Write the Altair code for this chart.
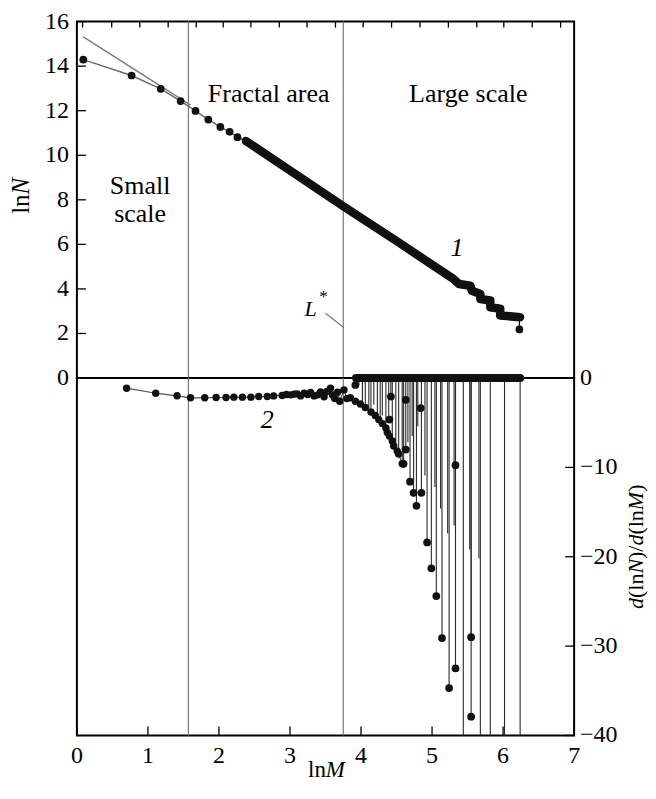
import altair as alt
import pandas as pd

# ---------------- data ----------------
# curve 1 (upper panel): individual markers at small lnM
s1_x = [0.09, 0.77, 1.18, 1.46, 1.67, 1.85, 2.02, 2.15, 2.26, 2.38]
s1_y = [14.29, 13.58, 12.98, 12.43, 11.99, 11.60, 11.27, 11.05, 10.81, 10.64]
# curve 1: dense part (overlapping markers form a band), incl. staircase at the end
band_x = [2.38, 3.10, 3.75, 4.50, 5.30, 5.38, 5.54, 5.56, 5.68, 5.68, 5.82, 5.82, 5.96, 5.96, 6.24]
band_y = [10.64, 9.10, 7.71, 6.15, 4.45, 4.22, 4.14, 3.92, 3.77, 3.55, 3.48, 3.18, 3.11, 2.81, 2.73]
last_x = [6.23]
last_y = [2.18]
# gray fitted straight line (fractal slope)
fit_x = [0.09, 1.60]
fit_y = [15.31, 12.25]

# curve 2 (lower panel): derivative d(lnN)/d(lnM)
s2_x = [0.70, 1.11, 1.41, 1.60, 1.80, 1.96, 2.10, 2.21, 2.33, 2.45, 2.56, 2.68, 2.77,
        2.89, 2.95, 3.01, 3.06, 3.10, 3.15, 3.20, 3.25, 3.29, 3.34, 3.39, 3.43, 3.48,
        3.52, 3.57, 3.60, 3.63, 3.67, 3.70, 3.76, 3.80, 3.85, 3.92, 3.99, 4.06, 4.14,
        4.20, 4.25, 4.30, 4.35, 4.37, 4.40, 4.44, 4.46, 4.51, 4.53, 4.58]
s2_y = [-1.14, -1.70, -1.99, -2.21, -2.21, -2.18, -2.18, -2.14, -2.14, -2.14, -2.07, -2.07, -2.00,
        -1.95, -1.85, -1.88, -1.80, -1.77, -2.00, -1.70, -1.85, -1.62, -2.00, -1.88, -1.55, -2.10,
        -1.50, -1.14, -1.90, -2.30, -1.60, -2.60, -1.33, -2.30, -2.20, -2.60, -2.90, -3.30, -3.80,
        -4.20, -4.65, -5.10, -5.60, -6.10, -6.50, -7.05, -7.60, -8.20, -8.50, -9.60]
# needles from 0 down to each value (values below -40 run off the frame)
needle_x = [3.97, 4.02, 4.06, 4.11, 4.14, 4.18, 4.23, 4.27, 4.30, 4.35, 4.39, 4.42, 4.44, 4.49,
            4.53, 4.58, 4.60, 4.63, 4.66, 4.69, 4.72, 4.74, 4.78, 4.80, 4.85, 4.90, 4.93, 4.99,
            5.04, 5.06, 5.12, 5.14, 5.22, 5.24, 5.31, 5.33, 5.33, 5.44, 5.53, 5.55, 5.55, 5.66,
            5.68, 5.82, 6.02, 6.24]
needle_y = [-0.8, -2.8, -3.0, -3.4, -3.8, -3.0, -4.4, -4.6, -4.2, -5.6, -4.65, -2.07, -7.05, -7.6,
            -8.2, -9.6, -9.6, -8.0, -7.2, -11.6, -6.5, -12.85, -14.3, -5.4, -12.85, -10.9, -18.4, -21.3,
            -12.2, -24.4, -14.6, -29.1, -17.4, -34.7, -16.5, -9.75, -32.5, -45.0, -19.2, -29.0, -37.9, -20.2,
            -45.0, -45.0, -45.0, -45.0]
# isolated markers at the needle tips
dot_x = [3.92, 4.42, 4.63, 4.84, 4.40, 4.63, 4.60, 4.69, 4.74, 4.85, 4.78, 5.33, 4.93, 4.99,
         5.06, 5.14, 5.24, 5.33, 5.55, 5.55]
dot_y = [-0.78, -2.07, -2.44, -3.36, -4.65, -8.0, -9.6, -11.6, -12.85, -12.85, -14.3, -9.75, -18.4, -21.3,
         -24.4, -29.1, -34.7, -32.5, -29.0, -37.9]
# markers sitting on zero (derivative = 0) from lnM ~3.93 to 6.24
zero_from = [3.93]
zero_to = [6.24]

# region boundaries
divider_x = [1.57, 3.75]

# axes: tick values and labels
left_vals = [0, 2, 4, 6, 8, 10, 12, 14, 16]
left_labels = ["0", "2", "4", "6", "8", "10", "12", "14", "16"]
right_vals = [0, -10, -20, -30, -40]
right_labels = ["0", "\u221210", "\u221220", "\u221230", "\u221240"]
bottom_vals = [0, 1, 2, 3, 4, 5, 6, 7]
bottom_labels = ["0", "1", "2", "3", "4", "5", "6", "7"]
top_ticks = [0.08, 0.49, 0.886, 1.285, 1.68, 2.06, 2.45, 2.85, 3.24, 3.64, 4.03, 4.43,
             4.83, 5.23, 5.63, 6.01, 6.41, 6.81]

# axis titles, split into roman / italic pieces
left_title = ["ln", "N"]
bottom_title = ["ln", "M"]
right_title = ["d", "(ln", "N", ")/", "d", "(ln", "M", ")"]

# text annotations
reg_text = ["Small", "scale", "Fractal area", "Large scale"]
reg_x = [0.89, 0.89, 2.70, 5.51]
reg_y = [8.6, 7.35, 12.75, 12.75]
lstar_line_x = [3.50, 3.76]
lstar_line_y = [2.91, 2.26]

# ---------------- chart ----------------
FONT = "Liberation Serif"
W, HT, HB = 498, 357, 358
FS_TICK = 24
FS_TXT = 26
xsc = alt.Scale(domain=[0, 7], nice=False, zero=False)
ytsc = alt.Scale(domain=[0, 16], nice=False, zero=False)
ybsc = alt.Scale(domain=[-40, 0], nice=False, zero=False)

# approximate advance widths (em) of Liberation Serif (roman / italic) to lay out mixed titles
EM = {"l": 0.278, "n": 0.5, "N": 0.667, "M": 0.833, "d": 0.5, "(": 0.333, ")": 0.333, "/": 0.278}


def italic(piece):
    return piece in ("N", "M", "d")


def piece_offsets(pieces, fs):
    offs, acc = [], 0.0
    for p in pieces:
        offs.append(acc)
        acc += sum(EM[c] for c in p) * fs
    return offs, acc


def X(field="x"):
    return alt.X(f"{field}:Q", scale=xsc, axis=None)


def YT(field="y"):
    return alt.Y(f"{field}:Q", scale=ytsc, axis=None)


def YB(field="y"):
    return alt.Y(f"{field}:Q", scale=ybsc, axis=None)


def txt(**kw):
    base = dict(font=FONT, fontSize=FS_TXT, color="black")
    base.update(kw)
    return base


def title_layers(pieces, fs, vertical, cx, cy):
    offs, total = piece_offsets(pieces, fs)
    layers = []
    for p, o in zip(pieces, offs):
        style = "italic" if italic(p) else "normal"
        if vertical:
            xv, yv = cx, cy + total / 2 - o
            mk = dict(angle=270, align="left", baseline="middle")
        else:
            xv, yv = cx - total / 2 + o, cy
            mk = dict(align="left", baseline="middle")
        layers.append(alt.Chart(pd.DataFrame({"t": [p]})).mark_text(
            **txt(fontSize=fs, fontStyle=style, **mk)).encode(
            text="t:N", x=alt.value(xv), y=alt.value(yv)))
    return layers


div_df = pd.DataFrame({"x": divider_x})

# ---- upper panel ----
left_df = pd.DataFrame({"v": left_vals, "t": left_labels})
t_ticks_left = alt.Chart(left_df).mark_rule(color="black", strokeWidth=1.3).encode(
    y=YT("v"), x=alt.value(0), x2=alt.value(9))
t_labels_left = alt.Chart(left_df).mark_text(**txt(fontSize=FS_TICK, align="right", baseline="middle")).encode(
    y=YT("v"), x=alt.value(-8), text="t:N")
t_titles = title_layers(left_title, 25, True, -56, HT / 2 - 4)
t_ticks_top = alt.Chart(pd.DataFrame({"x": top_ticks})).mark_rule(color="black", strokeWidth=1.3).encode(
    x=X(), y=alt.value(0), y2=alt.value(6))
t_div = alt.Chart(div_df).mark_rule(color="#7a7a7a", strokeWidth=1.2).encode(x=X())
t_fit = alt.Chart(pd.DataFrame({"x": fit_x, "y": fit_y})).mark_line(color="#7a7a7a", strokeWidth=1.4).encode(
    x=X(), y=YT())
t_sparse_line = alt.Chart(pd.DataFrame({"x": s1_x, "y": s1_y})).mark_line(color="#6a6a6a", strokeWidth=1.4).encode(
    x=X(), y=YT())
band_df = pd.DataFrame({"x": band_x, "y": band_y, "i": list(range(len(band_x)))})
t_band = alt.Chart(band_df).mark_line(color="#111", strokeWidth=8.5, strokeCap="round",
                                      strokeJoin="round").encode(x=X(), y=YT(), order="i:Q")
t_pts = alt.Chart(pd.DataFrame({"x": s1_x, "y": s1_y})).mark_circle(color="#111", size=60, opacity=1).encode(
    x=X(), y=YT())
last_df = pd.DataFrame({"x": last_x, "y": last_y, "y0": [band_y[-1]]})
t_last_rule = alt.Chart(last_df).mark_rule(color="#111", strokeWidth=1.3).encode(x=X(), y=YT(), y2="y0:Q")
t_last_pt = alt.Chart(last_df).mark_circle(color="#111", size=60, opacity=1).encode(x=X(), y=YT())
t_text = alt.Chart(pd.DataFrame({"x": reg_x, "y": reg_y, "t": reg_text})).mark_text(**txt()).encode(
    x=X(), y=YT(), text="t:N")
t_one = alt.Chart(pd.DataFrame({"x": [5.35], "y": [5.85], "t": ["1"]})).mark_text(
    **txt(fontStyle="italic")).encode(x=X(), y=YT(), text="t:N")
t_L = alt.Chart(pd.DataFrame({"x": [3.29], "y": [3.12], "t": ["L"]})).mark_text(
    **txt(fontSize=22, fontStyle="italic")).encode(x=X(), y=YT(), text="t:N")
t_star = alt.Chart(pd.DataFrame({"x": [3.47], "y": [3.62], "t": ["*"]})).mark_text(
    **txt(fontSize=17)).encode(x=X(), y=YT(), text="t:N")
t_lline = alt.Chart(pd.DataFrame({"x": lstar_line_x, "y": lstar_line_y})).mark_line(
    color="#7a7a7a", strokeWidth=1.2).encode(x=X(), y=YT())

top = alt.layer(t_div, t_ticks_left, t_labels_left, *t_titles, t_ticks_top, t_fit,
                t_sparse_line, t_band, t_pts, t_last_rule, t_last_pt, t_text, t_one, t_L, t_star,
                t_lline).properties(width=W, height=HT)

# ---- lower panel ----
bot_df = pd.DataFrame({"x": bottom_vals, "t": bottom_labels})
b_ticks_bottom = alt.Chart(bot_df).mark_rule(color="black", strokeWidth=1.3).encode(
    x=X(), y=alt.value(HB), y2=alt.value(HB - 9))
b_labels_bottom = alt.Chart(bot_df).mark_text(**txt(fontSize=FS_TICK, align="center", baseline="middle")).encode(
    x=X(), y=alt.value(HB + 21), text="t:N")
b_titles = title_layers(bottom_title, 23, False, W / 2 + 1, HB + 35)
right_df = pd.DataFrame({"v": right_vals, "t": right_labels})
b_ticks_right = alt.Chart(right_df).mark_rule(color="black", strokeWidth=1.3).encode(
    y=YB("v"), x=alt.value(W), x2=alt.value(W - 9))
b_labels_right = alt.Chart(right_df).mark_text(**txt(fontSize=FS_TICK, align="left", baseline="middle")).encode(
    y=YB("v"), x=alt.value(W + 6), text="t:N")
r_titles = title_layers(right_title, 22, True, W + 62, HB / 2 - 10)
b_div = alt.Chart(div_df).mark_rule(color="#7a7a7a", strokeWidth=1.2).encode(x=X())
needle_df = pd.DataFrame({"x": needle_x, "y": needle_y, "z": [0.0] * len(needle_x)})
b_needles = alt.Chart(needle_df).mark_rule(color="#2a2a2a", strokeWidth=1.1, clip=True).encode(
    x=X(), y=YB(), y2="z:Q")
zero_df = pd.DataFrame({"x": zero_from, "x2": zero_to, "z": [0.0]})
b_zero = alt.Chart(zero_df).mark_rule(color="#111", strokeWidth=8, strokeCap="round").encode(
    x=X(), x2="x2:Q", y=YB("z"))
s2_df = pd.DataFrame({"x": s2_x, "y": s2_y})
b_line = alt.Chart(s2_df).mark_line(color="#555", strokeWidth=1.2).encode(x=X(), y=YB())
b_pts = alt.Chart(s2_df).mark_circle(color="#111", size=55, opacity=1).encode(x=X(), y=YB())
b_dots = alt.Chart(pd.DataFrame({"x": dot_x, "y": dot_y})).mark_circle(color="#111", size=60, opacity=1).encode(
    x=X(), y=YB())
b_two = alt.Chart(pd.DataFrame({"x": [2.68], "y": [-4.65], "t": ["2"]})).mark_text(
    **txt(fontStyle="italic")).encode(x=X(), y=YB(), text="t:N")

bottom = alt.layer(b_div, b_ticks_bottom, b_labels_bottom, *b_titles, b_ticks_right,
                   b_labels_right, *r_titles, b_needles, b_zero, b_line, b_pts, b_dots,
                   b_two).properties(width=W, height=HB)

chart = alt.vconcat(top, bottom, spacing=0, bounds="flush").properties(
    padding={"left": 0, "top": 0, "right": 0, "bottom": 0}, background="white"
).configure_view(stroke="black", strokeWidth=2)

chart.save("out.html", embed_options={"renderer": "svg", "actions": False})
